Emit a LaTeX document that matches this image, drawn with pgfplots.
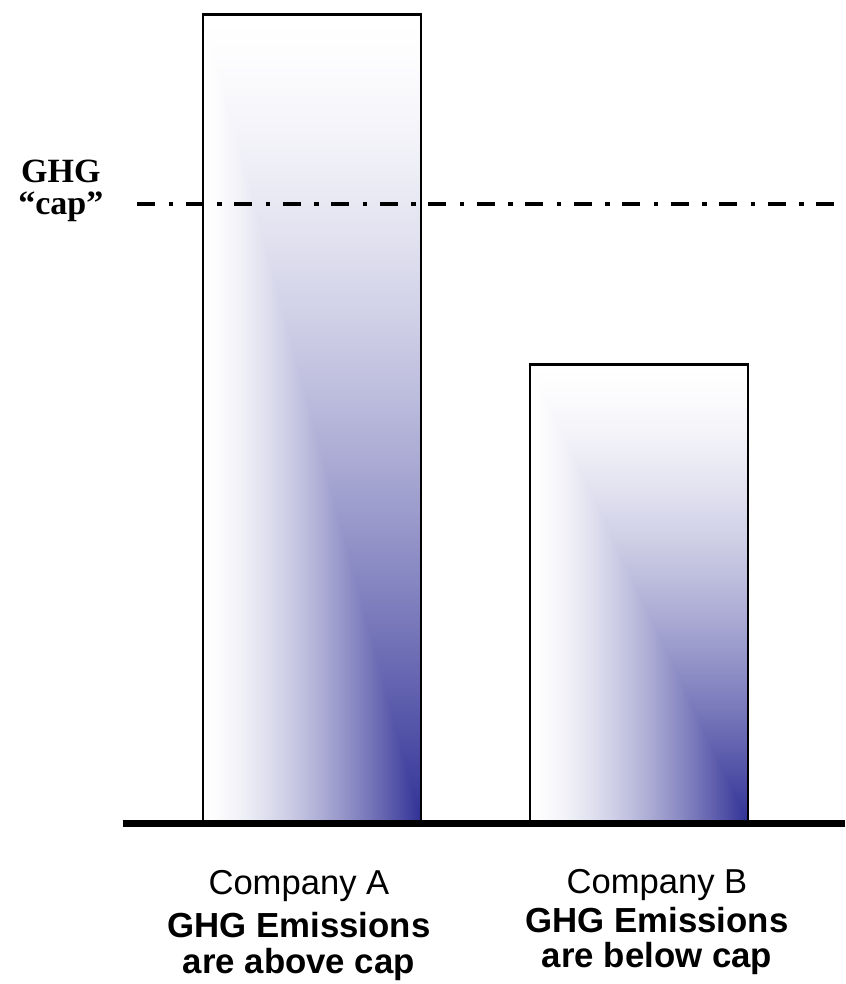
\documentclass[border=0pt]{standalone}
\usepackage{pgfplots}
\pgfplotsset{compat=1.18}
\usepackage{fontspec}
\newfontfamily\lsans{Liberation Sans}
\newfontfamily\lserif{Liberation Serif}
\pgfdeclarefunctionalshading{barshade}{\pgfpointorigin}{\pgfpoint{100bp}{100bp}}{}{
25 sub 50 div
dup 0 lt {pop 0} if dup 1 gt {pop 1} if
1 exch sub
exch 25 sub 50 div
dup 0 lt {pop 0} if dup 1 gt {pop 1} if
2 copy gt {exch} if pop
dup sqrt mul
dup 0.81 mul 1 exch sub
exch dup 0.81 mul 1 exch sub
exch 0.41 mul 1 exch sub
}
\begin{document}
\begin{tikzpicture}
\useasboundingbox (0,0) rectangle (422.5pt,492pt);
\begin{axis}[
  at={(0,0)}, anchor=south west,
  scale only axis, width=422.5pt, height=492pt,
  xmin=-0.9541, xmax=1.63,
  ymin=-19.91, ymax=101.79,
  hide axis, clip=false,
]
\addplot[ybar, bar width=0.6667, bar shift=0pt, draw=black, line width=1.2pt, shading=barshade] coordinates {(0,100)};
\addplot[ybar, bar width=0.6667, bar shift=0pt, draw=black, line width=1.2pt, shading=barshade] coordinates {(1,56.7)};
\addplot[black, line width=2pt, dash pattern=on 9pt off 6.75pt on 2.25pt off 6.25pt] coordinates {(-0.535,76.6) (1.599,76.6)};
\addplot[black, line width=3.3pt] coordinates {(-0.578,-0.06) (1.63,-0.06)};
\node[anchor=base, font=\lserif\bfseries\fontsize{17}{20}\selectfont] at (axis cs:-0.768,79.2) {GHG};
\node[anchor=base, font=\lserif\bfseries\fontsize{17}{20}\selectfont] at (axis cs:-0.768,75.3) {“cap”};
\node[anchor=base, font=\lsans\fontsize{17.3}{20}\selectfont] at (axis cs:-0.04,-8.9) {Company A};
\node[anchor=base, font=\lsans\bfseries\fontsize{17.4}{20}\selectfont] at (axis cs:-0.04,-14.2) {GHG Emissions};
\node[anchor=base, font=\lsans\bfseries\fontsize{17.4}{20}\selectfont] at (axis cs:-0.04,-18.55) {are above cap};
\node[anchor=base, font=\lsans\fontsize{17.3}{20}\selectfont] at (axis cs:1.055,-8.66) {Company B};
\node[anchor=base, font=\lsans\bfseries\fontsize{17.4}{20}\selectfont] at (axis cs:1.055,-13.6) {GHG Emissions};
\node[anchor=base, font=\lsans\bfseries\fontsize{17.4}{20}\selectfont] at (axis cs:1.055,-17.93) {are below cap};
\end{axis}
\end{tikzpicture}
\end{document}
